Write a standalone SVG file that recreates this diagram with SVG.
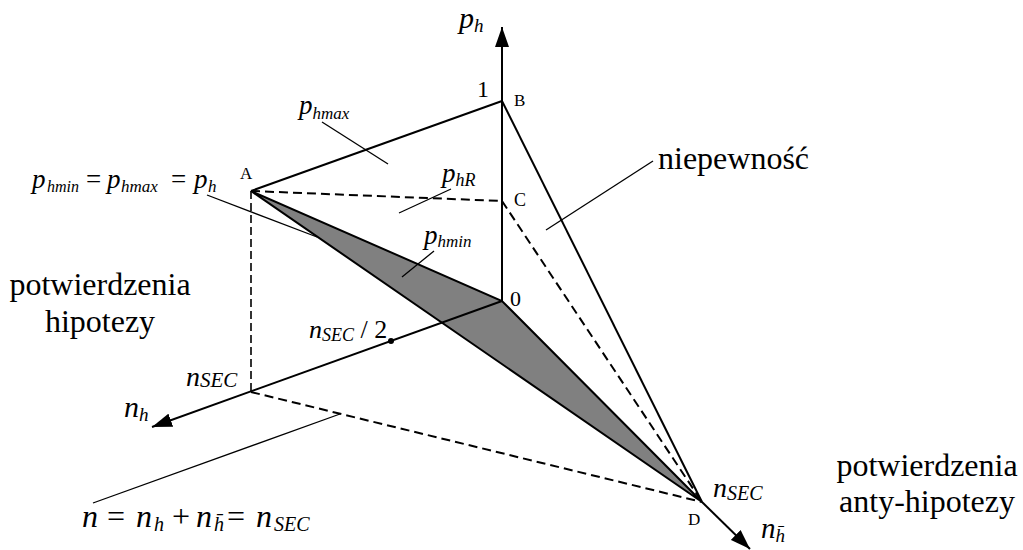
<svg xmlns="http://www.w3.org/2000/svg" width="1023" height="550" viewBox="0 0 1023 550">
<style>
.bg{fill:#fff}
.sol{stroke:#000;stroke-width:2;fill:none}
.dash{stroke:#000;stroke-width:2;fill:none;stroke-dasharray:9 5}
.dashv{stroke:#000;stroke-width:1.6;fill:none;stroke-dasharray:8 4}
.lead{stroke:#000;stroke-width:1.3;fill:none}
.face{fill:#808080;stroke:#000;stroke-width:2;stroke-linejoin:miter}
text{font-family:'Liberation Serif','Times New Roman',serif;fill:#000}
.m{font-style:italic}
.up{font-style:normal}
</style>
<defs>
<marker id="arr" markerUnits="userSpaceOnUse" markerWidth="22" markerHeight="14" refX="20" refY="7" orient="auto">
<path d="M0,0 L20,7 L0,14 z" fill="#000"/>
</marker>
</defs>
<rect class="bg" x="0" y="0" width="1023" height="550"/>

<g id="face-pmin">
<polygon class="face" points="251,191 502,301 702,502"/>
</g>

<g id="connectors">
<line class="sol" x1="251" y1="191" x2="502" y2="101"/>
<line class="sol" x1="502" y1="101" x2="702" y2="502"/>
<line class="dash" x1="251" y1="191" x2="502" y2="201"/>
<line class="dash" x1="502" y1="201" x2="702" y2="502"/>
<line class="dashv" x1="251" y1="191" x2="251" y2="392"/>
<line class="dash" x1="251" y1="392" x2="702" y2="502"/>
<line class="sol" x1="502" y1="301" x2="502" y2="27" marker-end="url(#arr)"/>
<line class="sol" x1="502" y1="301" x2="152" y2="427" marker-end="url(#arr)"/>
<line class="sol" x1="702" y1="502" x2="750" y2="549" marker-end="url(#arr)"/>
<line class="lead" x1="322" y1="122" x2="388" y2="164"/>
<line class="lead" x1="451" y1="189" x2="399" y2="213"/>
<line class="lead" x1="434" y1="251" x2="402" y2="277"/>
<line class="lead" x1="207" y1="195" x2="317" y2="237"/>
<line class="lead" x1="653" y1="161" x2="546" y2="230"/>
<line class="lead" x1="93" y1="503" x2="340" y2="414"/>
</g>

<g id="node-A"><text x="240" y="179" font-size="17">A</text></g>
<g id="node-B"><text x="514" y="106" font-size="17">B</text></g>
<g id="node-C"><text x="514" y="206" font-size="18">C</text></g>
<g id="node-D"><text x="688" y="525" font-size="17">D</text></g>
<g id="node-0"><text x="510" y="306" font-size="22">0</text></g>
<g id="node-1"><text x="477" y="97" font-size="24">1</text></g>
<g id="node-mid"><circle cx="391" cy="341" r="3" fill="#000"/>
<text class="m" x="309" y="338" font-size="26">n<tspan font-size="18" dy="3">SEC</tspan><tspan class="up" dy="-3"> / 2</tspan></text></g>

<g id="label-ph"><text class="m" x="459" y="28" font-size="30">p<tspan font-size="19" dy="4">h</tspan></text></g>
<g id="label-nh"><text class="m" x="124" y="417" font-size="30">n<tspan font-size="19" dy="4">h</tspan></text></g>
<g id="label-nhbar"><text class="m" x="761" y="538" font-size="29">n<tspan font-size="19" dy="4">h&#772;</tspan></text></g>
<g id="label-nsec-h"><text class="m" x="186" y="386" font-size="28">n<tspan font-size="21" dy="1">SEC</tspan></text></g>
<g id="label-nsec-d"><text class="m" x="713" y="497" font-size="28">n<tspan font-size="20" dy="3">SEC</tspan></text></g>
<g id="label-phmax"><text class="m" x="299" y="114" font-size="27">p<tspan font-size="17" dy="5">hmax</tspan></text></g>
<g id="label-phR"><text class="m" x="442" y="182" font-size="27">p<tspan font-size="18" dy="4">hR</tspan></text></g>
<g id="label-phmin"><text class="m" x="424" y="244" font-size="27">p<tspan font-size="17" dy="3">hmin</tspan></text></g>
<g id="label-eq"><text class="m" font-size="27"><tspan x="32" y="188">p</tspan><tspan x="47" y="192" font-size="16">hmin</tspan><tspan class="up" x="86" y="188">=</tspan><tspan x="107" y="188">p</tspan><tspan x="121" y="192" font-size="17">hmax</tspan><tspan class="up" x="171" y="188">=</tspan><tspan x="194" y="188">p</tspan><tspan x="208" y="192" font-size="17">h</tspan></text></g>
<g id="label-n"><text class="m" font-size="32"><tspan x="82" y="527">n</tspan><tspan class="up" x="107" y="527">=</tspan><tspan x="136" y="527">n</tspan><tspan x="154" y="531" font-size="20">h</tspan><tspan class="up" x="172" y="527">+</tspan><tspan x="196" y="527">n</tspan><tspan x="214" y="531" font-size="20">h&#772;</tspan><tspan class="up" x="227" y="527">=</tspan><tspan x="256" y="527">n</tspan><tspan x="274" y="531" font-size="20">SEC</tspan></text></g>
<g id="label-niep"><text x="658" y="169" font-size="32">niepewność</text></g>
<g id="label-hip"><text text-anchor="middle" font-size="32"><tspan x="100" y="295">potwierdzenia</tspan><tspan x="100" y="332">hipotezy</tspan></text></g>
<g id="label-anty"><text text-anchor="middle" font-size="32"><tspan x="927" y="476">potwierdzenia</tspan><tspan x="927" y="512">anty-hipotezy</tspan></text></g>
</svg>
